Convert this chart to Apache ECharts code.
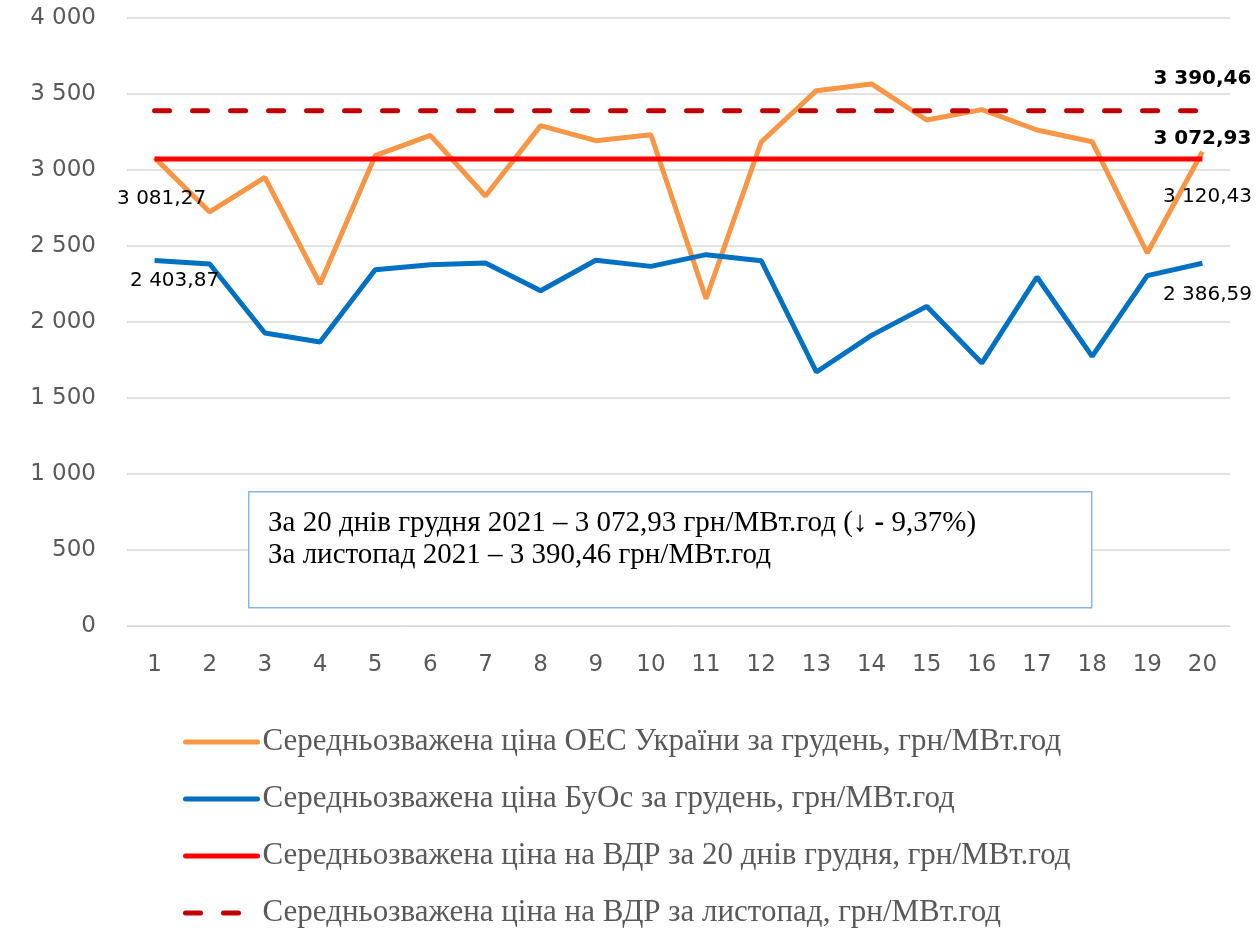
<!DOCTYPE html>
<html>
<head>
<meta charset="utf-8">
<script src="https://cdn.jsdelivr.net/npm/echarts@6/dist/echarts.min.js"></script>
<style>
  html, body { margin: 0; padding: 0; background: #fff; }
  #chart { width: 1257px; height: 928px; }
</style>
</head>
<body>
<div id="chart"></div>
<script>
// days of December 2021
const days = ['1', '2', '3', '4', '5', '6', '7', '8', '9', '10', '11', '12', '13', '14', '15', '16', '17', '18', '19', '20']

// weighted average price, UAH/MWh
const oesPrices = [3081.27, 2724, 2952, 2250, 3094, 3228, 2829, 3292, 3193, 3232, 2153, 3184, 3522, 3566, 3329, 3397, 3263, 3186, 2454, 3120.43]
const buosPrices = [2403.87, 2382, 1928, 1868, 2344, 2377, 2388, 2206, 2406, 2366, 2443, 2403, 1671, 1912, 2103, 1730, 2296, 1774, 2305, 2386.59]
const vdrDecember = 3072.93
const vdrNovember = 3390.46

const yMin = 0
const yMax = 4000
const yStep = 500

const seriesNames = [
  'Середньозважена ціна ОЕС України за грудень, грн/МВт.год',
  'Середньозважена ціна БуОс за грудень, грн/МВт.год',
  'Середньозважена ціна на ВДР за 20 днів грудня, грн/МВт.год',
  'Середньозважена ціна на ВДР за листопад, грн/МВт.год'
]

const noteLines = [
  'За 20 днів грудня 2021 – 3 072,93 грн/МВт.год (',
  '↓ -',
  ' 9,37%)',
  'За листопад 2021 – 3 390,46 грн/МВт.год'
]

const spaced = (s) => s.replace(/\B(?=(\d{3})+(?!\d))/g, ' ')
const fmtValue = (v) => {
  const parts = Number(v).toFixed(2).split('.')
  return spaced(parts[0]) + ',' + parts[1]
}

const last = days.length - 1

// show label only on chosen points
const withLabels = (values, idx) => values.map((v, i) => idx.includes(i)
  ? { value: v, label: { show: true } }
  : v)

const chart = echarts.init(document.getElementById('chart'))

const labelFont = {
  color: '#000',
  fontFamily: 'DejaVu Sans',
  fontSize: 20,
  formatter: (p) => fmtValue(Array.isArray(p.value) ? p.value[1] : p.value)
}

const option = {
  backgroundColor: '#fff',
  animation: false,
  grid: {
    left: 127,
    right: 27,
    top: 18,
    bottom: 302
  },
  xAxis: {
    type: 'category',
    data: days,
    boundaryGap: true,
    axisLine: { show: true, lineStyle: { color: '#D9D9D9', width: 1 } },
    axisTick: { show: false },
    axisLabel: {
      color: '#595959',
      fontFamily: 'DejaVu Sans',
      fontSize: 23,
      margin: 28
    }
  },
  yAxis: {
    type: 'value',
    min: yMin,
    max: yMax,
    interval: yStep,
    axisLine: { show: false },
    axisTick: { show: false },
    splitLine: { lineStyle: { color: '#D9D9D9', width: 1.5 } },
    axisLabel: {
      color: '#595959',
      fontFamily: 'DejaVu Sans',
      fontSize: 23,
      margin: 31,
      formatter: (v) => spaced(String(v))
    }
  },
  legend: {
    orient: 'vertical',
    left: 183,
    top: 725,
    height: 240,
    padding: 0,
    itemWidth: 72,
    itemHeight: 14,
    itemGap: 23,
    itemStyle: { opacity: 0 },
    lineStyle: { width: 5, cap: 'round' },
    textStyle: {
      color: '#595959',
      fontFamily: 'Liberation Serif',
      fontSize: 31,
      lineHeight: 34
    },
    data: seriesNames
  },
  graphic: [
    {
      type: 'rect',
      left: 248,
      top: 491,
      shape: { width: 843, height: 116 },
      style: { fill: '#fff', stroke: '#8EB4E3', lineWidth: 1.5 },
      z: 10
    },
    {
      type: 'text',
      left: 268,
      top: 509,
      z: 11,
      style: {
        text: '{a|' + noteLines[0] + '}{b|' + noteLines[1] + '}{a|' + noteLines[2] + '}\n{a|' + noteLines[3] + '}',
        rich: {
          a: { fontFamily: 'Liberation Serif', fontSize: 29, color: '#000', lineHeight: 32 },
          b: { fontFamily: 'Liberation Serif', fontSize: 29, fontWeight: 'bold', color: '#000', lineHeight: 32 }
        }
      }
    }
  ],
  series: [
    {
      name: seriesNames[0],
      type: 'line',
      data: withLabels(oesPrices, [0, last]),
      symbol: 'circle',
      symbolSize: 0,
      lineStyle: { color: '#F79646', width: 5 },
      itemStyle: { color: '#F79646' },
      label: Object.assign({ show: false, position: 'bottom' }, labelFont),
      labelLayout: (p) => p.dataIndex === 0 ? { dx: 7, dy: 26 } : { dx: 5, dy: 30 },
      z: 3
    },
    {
      name: seriesNames[1],
      type: 'line',
      data: withLabels(buosPrices, [0, last]),
      symbol: 'circle',
      symbolSize: 0,
      lineStyle: { color: '#0070C0', width: 5 },
      itemStyle: { color: '#0070C0' },
      label: Object.assign({ show: false, position: 'bottom' }, labelFont),
      labelLayout: (p) => p.dataIndex === 0 ? { dx: 20, dy: 5 } : { dx: 5, dy: 17 },
      z: 3
    },
    {
      name: seriesNames[2],
      type: 'line',
      data: [[days[0], vdrDecember], { value: [days[last], vdrDecember], label: { show: true } }],
      symbol: 'circle',
      symbolSize: 0,
      lineStyle: { color: '#FF0000', width: 5 },
      itemStyle: { color: '#FF0000' },
      label: Object.assign({ show: false, position: 'top' }, labelFont, { fontWeight: 'bold' }),
      labelLayout: { dx: 0, dy: -5 },
      z: 4
    },
    {
      name: seriesNames[3],
      type: 'line',
      data: [[days[0], vdrNovember], { value: [days[last], vdrNovember], label: { show: true } }],
      symbol: 'circle',
      symbolSize: 0,
      lineStyle: { color: '#C00000', width: 5, type: [15, 23], cap: 'round' },
      itemStyle: { color: '#C00000' },
      label: Object.assign({ show: false, position: 'top' }, labelFont, { fontWeight: 'bold' }),
      labelLayout: { dx: 0, dy: -17 },
      z: 4
    }
  ]
}

chart.setOption(option)
</script>
</body>
</html>
